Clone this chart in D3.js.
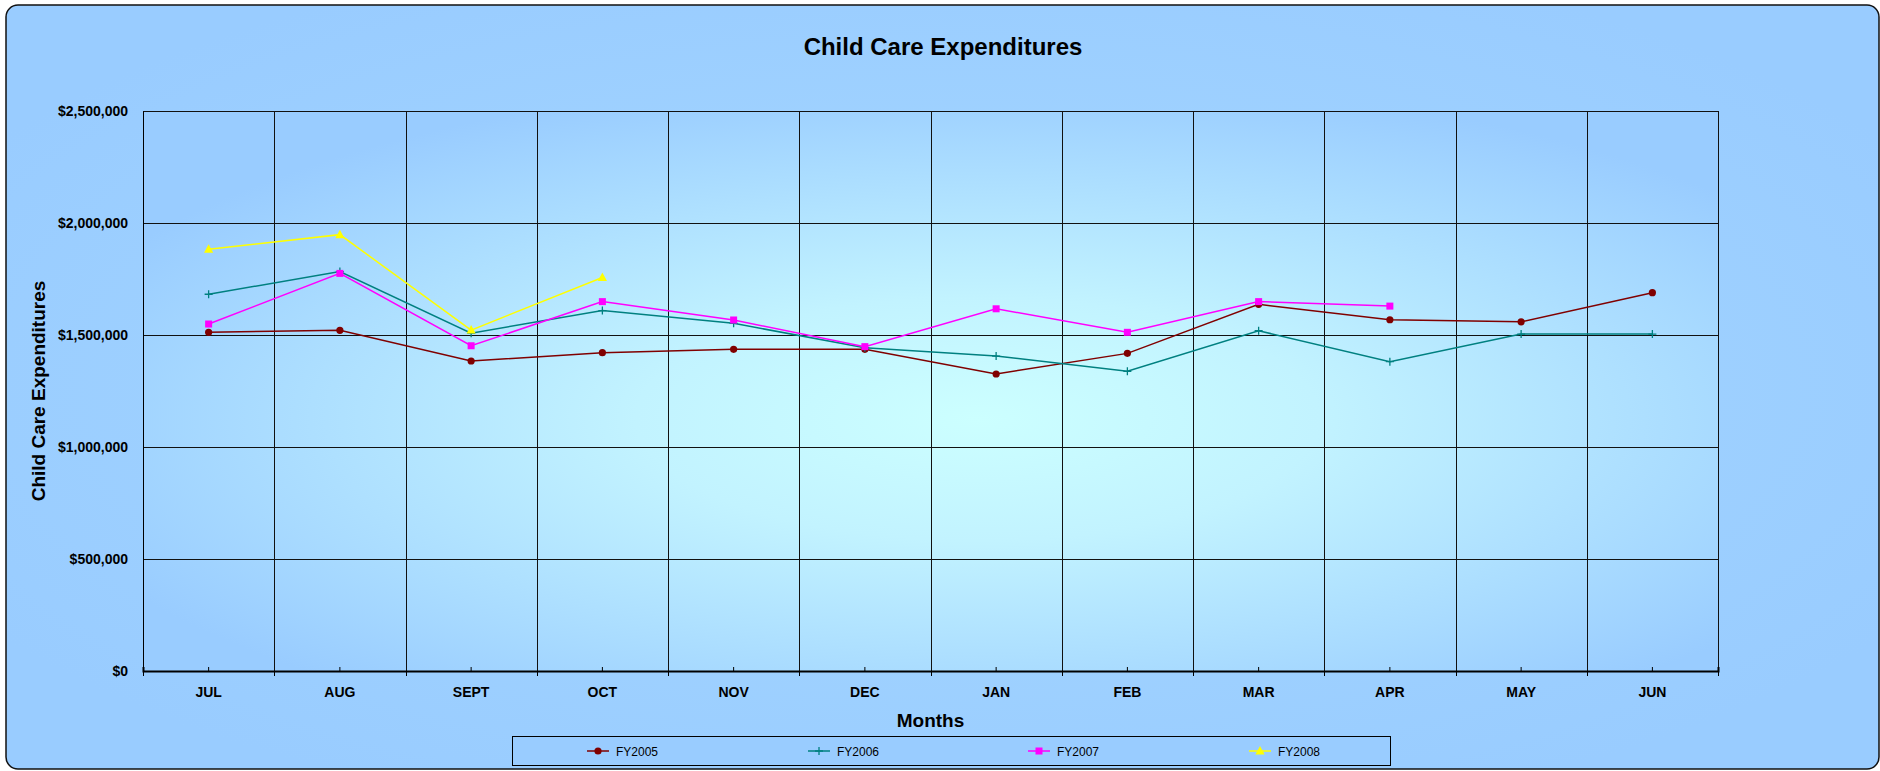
<!DOCTYPE html>
<html><head><meta charset="utf-8">
<script src="https://cdn.jsdelivr.net/npm/d3@7"></script>
<style>html,body{margin:0;padding:0;background:#fff;}svg{display:block;}</style>
</head><body>
<script>
const months = ["JUL","AUG","SEPT","OCT","NOV","DEC","JAN","FEB","MAR","APR","MAY","JUN"];
const fy2005 = [1512000,1521000,1384000,1421000,1436000,1436000,1326000,1418000,1637000,1568000,1559000,1689000];
const fy2006 = [1682000,1783000,1508000,1609000,1552000,1443000,1406000,1338000,1519000,1381000,1504000,1504000];
const fy2007 = [1549000,1775000,1452000,1649000,1567000,1448000,1617000,1512000,1649000,1629000,null,null];
const fy2008 = [1883000,1948000,1522000,1757000,null,null,null,null,null,null,null,null];
const seriesNames = ["FY2005","FY2006","FY2007","FY2008"];
const yTicks = [0,500000,1000000,1500000,2000000,2500000];

const W=1880,H=771;
const M={l:143,r:1718,t:111,b:671};
const svg=d3.select("body").append("svg").attr("width",W).attr("height",H);
const defs=svg.append("defs");
const g1=defs.append("radialGradient").attr("id","plotGrad").attr("cx","0.53").attr("cy","0.55").attr("r","0.62");
g1.append("stop").attr("offset","0").attr("stop-color","#ccffff");
g1.append("stop").attr("offset","0.35").attr("stop-color","#c2f3ff");
g1.append("stop").attr("offset","1").attr("stop-color","#99ccff");
const g2=defs.append("radialGradient").attr("id","chartGrad").attr("cx","0.5").attr("cy","0.5").attr("r","0.6");
g2.append("stop").attr("offset","0").attr("stop-color","#a6d8ff");
g2.append("stop").attr("offset","1").attr("stop-color","#99ccff");

svg.append("rect").attr("x",6).attr("y",5).attr("width",1873).attr("height",764).attr("rx",12).attr("ry",12)
  .attr("fill","url(#chartGrad)").attr("stroke","#111").attr("stroke-width",1.5);

const x=d3.scaleBand().domain(months).range([M.l,M.r]).padding(0);
const y=d3.scaleLinear().domain([0,2500000]).range([M.b,M.t]);

svg.append("rect").attr("x",M.l).attr("y",M.t).attr("width",M.r-M.l).attr("height",M.b-M.t).attr("fill","url(#plotGrad)");

// gridlines
const grid=svg.append("g").attr("stroke","#111").attr("stroke-width",1).attr("shape-rendering","crispEdges");
grid.selectAll("line.h").data(yTicks).join("line").attr("x1",M.l).attr("x2",M.r).attr("y1",d=>Math.round(y(d))+0.5).attr("y2",d=>Math.round(y(d))+0.5);
grid.selectAll("line.v").data(months).join("line").attr("x1",d=>Math.round(x(d))+0.5).attr("x2",d=>Math.round(x(d))+0.5).attr("y1",M.t).attr("y2",M.b);
grid.append("line").attr("x1",M.r+0.5).attr("x2",M.r+0.5).attr("y1",M.t).attr("y2",M.b);

// y axis
const yAxis=svg.append("g").attr("transform",`translate(${M.l},0)`)
  .call(d3.axisLeft(y).tickValues(yTicks).tickSize(0).tickPadding(15).tickFormat(d=>"$"+d3.format(",")(d)));
yAxis.select(".domain").attr("stroke","#000");
yAxis.selectAll("text").attr("font-family","Liberation Sans, Arial, sans-serif").attr("font-weight","bold").attr("font-size",14).attr("fill","#000");

// x axis
const xAxis=svg.append("g").attr("transform",`translate(0,${M.b})`)
  .call(d3.axisBottom(x).tickSize(-4).tickPadding(16));
xAxis.select(".domain").attr("stroke","#000").attr("stroke-width",2);
xAxis.selectAll("line").attr("stroke","#000");
xAxis.selectAll("text").attr("font-family","Liberation Sans, Arial, sans-serif").attr("font-weight","bold").attr("font-size",14).attr("fill","#000");
// major ticks at boundaries
const bounds=months.map(m=>x(m)).concat([x.range()[1]]);
svg.append("g").selectAll("line").data(bounds).join("line")
  .attr("x1",d=>Math.round(d)+0.5).attr("x2",d=>Math.round(d)+0.5).attr("y1",M.b).attr("y2",M.b+5).attr("stroke","#000");

// series
const colors=["#800000","#008080","#ff00ff","#ffff00"];
const data=[fy2005,fy2006,fy2007,fy2008];
const line=d3.line().defined(d=>d.v!=null).x(d=>x(d.m)+x.bandwidth()/2).y(d=>y(d.v));
function marker(sel,i){
  if(i===0){sel.append("circle").attr("r",3.6).attr("fill",colors[0]);}
  else if(i===1){sel.append("path").attr("d","M-4,0H4M0,-4V4").attr("stroke",colors[1]).attr("stroke-width",1.3).attr("fill","none");}
  else if(i===2){sel.append("rect").attr("x",-3.5).attr("y",-3.5).attr("width",7).attr("height",7).attr("fill",colors[2]);}
  else {sel.append("path").attr("d","M0,-5L4.6,3.5L-4.6,3.5Z").attr("fill",colors[3]);}
}
data.forEach((arr,i)=>{
  const pts=arr.map((v,j)=>({m:months[j],v}));
  svg.append("path").datum(pts).attr("d",line).attr("fill","none").attr("stroke",colors[i]).attr("stroke-width",1.5);
  pts.filter(d=>d.v!=null).forEach(d=>{
    const gm=svg.append("g").attr("transform",`translate(${x(d.m)+x.bandwidth()/2},${y(d.v)})`);
    marker(gm,i);
  });
});

// titles
svg.append("text").attr("x",943).attr("y",55).attr("text-anchor","middle").attr("font-family","Liberation Sans, Arial, sans-serif")
  .attr("font-weight","bold").attr("font-size",24).text("Child Care Expenditures");
svg.append("text").attr("x",(M.l+M.r)/2).attr("y",727).attr("text-anchor","middle").attr("font-family","Liberation Sans, Arial, sans-serif")
  .attr("font-weight","bold").attr("font-size",19).text("Months");
svg.append("text").attr("transform","translate(45,391) rotate(-90)").attr("text-anchor","middle").attr("font-family","Liberation Sans, Arial, sans-serif")
  .attr("font-weight","bold").attr("font-size",19).text("Child Care Expenditures");

// legend
svg.append("rect").attr("x",512.5).attr("y",736.5).attr("width",878).attr("height",29).attr("fill","#99ccff").attr("stroke","#000").attr("stroke-width",1);
const lx=[598,819,1039,1260];
seriesNames.forEach((n,i)=>{
  const g=svg.append("g").attr("transform",`translate(${lx[i]},751)`);
  g.append("line").attr("x1",-11).attr("x2",11).attr("stroke",colors[i]).attr("stroke-width",1.5);
  marker(g,i);
  g.append("text").attr("x",18).attr("y",4.5).attr("font-family","Liberation Sans, Arial, sans-serif").attr("font-size",12).text(n);
});
</script>
</body></html>
